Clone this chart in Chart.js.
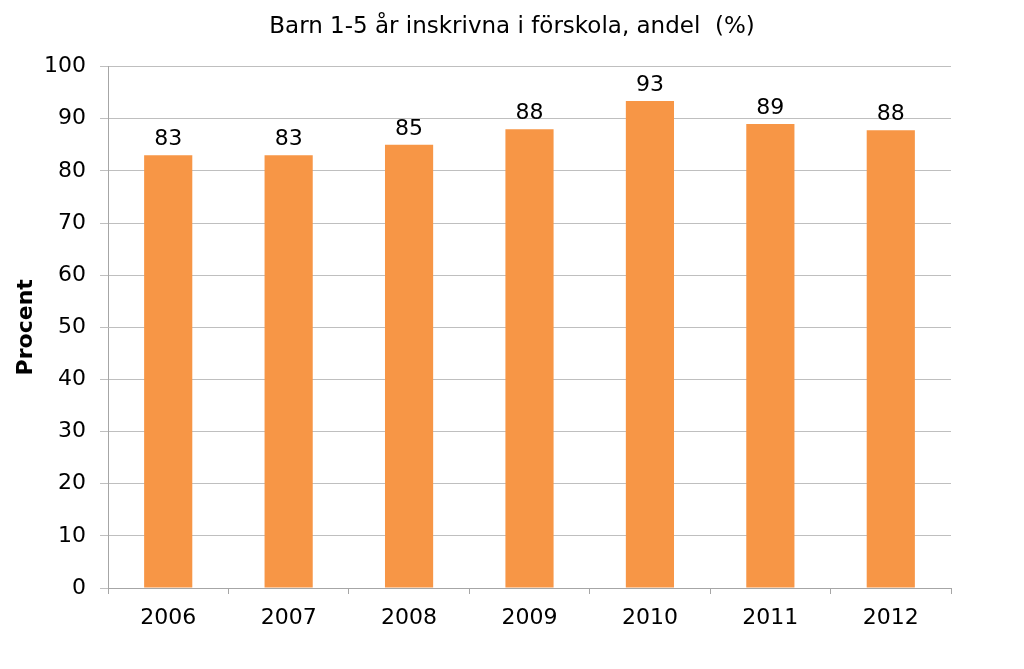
<!DOCTYPE html>
<html>
<head>
<meta charset="utf-8">
<script src="https://cdn.jsdelivr.net/npm/chart.js@4.4.0/dist/chart.umd.min.js"></script>
<style>
  html, body { margin: 0; padding: 0; background: #fff; }
  #wrap { width: 1024px; height: 669px; }
</style>
</head>
<body>
<div id="wrap"><canvas id="chart" width="1024" height="669"></canvas></div>
<script>
// Andel barn 1-5 år inskrivna i förskola
const years = ['2006', '2007', '2008', '2009', '2010', '2011', '2012'];
const andel = [83, 83, 85, 88, 93.4, 89, 87.8];
const yTicks = [0, 10, 20, 30, 40, 50, 60, 70, 80, 90, 100];

const FONT = "'DejaVu Sans', Verdana, sans-serif";

// etiketter ovanför staplarna
const etiketter = {
    id: 'etiketter',
    afterDatasetsDraw(chart) {
        const ctx = chart.ctx;
        const meta = chart.getDatasetMeta(0);
        ctx.save();
        ctx.fillStyle = '#000';
        ctx.font = '22px ' + FONT;
        ctx.textAlign = 'center';
        ctx.textBaseline = 'alphabetic';
        meta.data.forEach((bar, i) => {
            ctx.fillText(Math.round(andel[i]), bar.x, bar.y - 10);
        });
        ctx.restore();
    }
};

new Chart(document.getElementById('chart'), {
    type: 'bar',
    data: {
        labels: years,
        datasets: [{
            data: andel,
            backgroundColor: '#F79646',
            barPercentage: 0.4,
            categoryPercentage: 1.0
        }]
    },
    options: {
        responsive: false,
        animation: false,
        layout: { padding: 0 },
        plugins: {
            legend: { display: false },
            tooltip: { enabled: false },
            title: {
                display: true,
                text: 'Barn 1-5 år inskrivna i förskola, andel  (%)',
                color: '#000',
                font: { family: FONT, size: 23, weight: 'normal' },
                padding: { top: 13, bottom: 26 }
            }
        },
        scales: {
            x: {
                grid: { display: true, drawOnChartArea: false, offset: true, tickLength: 6, color: '#a6a6a6' },
                border: { color: '#a6a6a6' },
                ticks: { color: '#000', font: { family: FONT, size: 22 }, padding: 11 },
                afterFit(scale) { scale.height = 81; }
            },
            y: {
                min: 0,
                max: 100,
                afterBuildTicks(scale) { scale.ticks = yTicks.map(v => ({ value: v })); },
                grid: { color: '#bfbfbf', tickLength: 8 },
                border: { color: '#a6a6a6' },
                ticks: { color: '#000', font: { family: FONT, size: 22 }, padding: 14 },
                title: {
                    display: true,
                    text: 'Procent',
                    color: '#000',
                    font: { family: FONT, size: 22, weight: 'bold' },
                    padding: { top: 13, bottom: 0 }
                },
                afterFit(scale) { scale.width = 108; }
            },
            // tom axel till höger, håller plats så att titeln centreras på sidan
            y2: {
                position: 'right',
                grid: { display: false },
                border: { display: false },
                ticks: { display: false },
                afterFit(scale) { scale.width = 73; }
            }
        }
    },
    plugins: [etiketter]
});
</script>
</body>
</html>
